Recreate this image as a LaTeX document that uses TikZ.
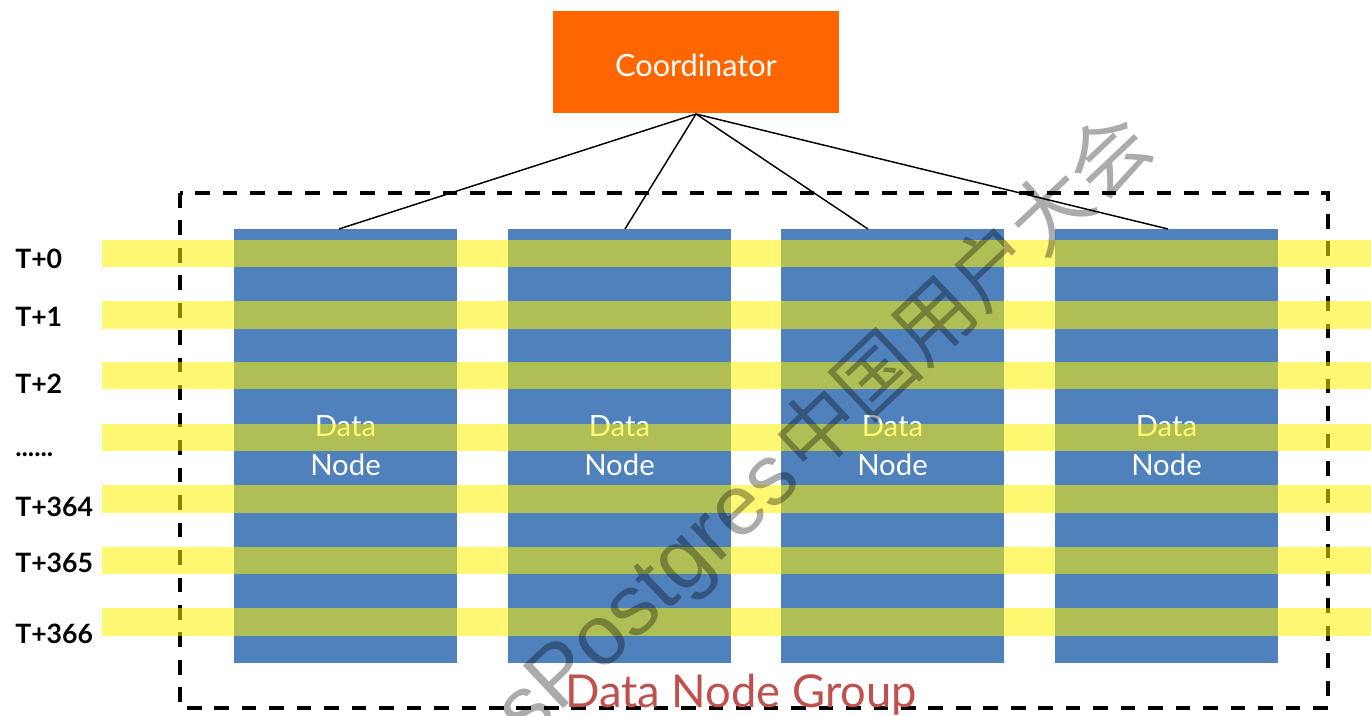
\documentclass[tikz,border=0pt]{standalone}
\usepackage{fontspec}
\setmainfont{Lato}
\newfontfamily\cjkwm{Noto Sans CJK SC}
\newfontfamily\latwm{Liberation Sans}
\usetikzlibrary{calc}
\definecolor{coordorange}{HTML}{FF6600}
\definecolor{colblue}{HTML}{4F81BD}
\definecolor{groupred}{HTML}{C0504D}
\tikzset{
  px/.style={x=0.75pt,y=-0.75pt},
  col/.style={fill=colblue, draw=none, minimum width=167.25pt, minimum height=325.5pt, inner sep=0pt,
    text=white, align=center, font=\fontsize{22}{29.25}\selectfont},
  band/.style={fill=yellow, fill opacity=0.55},
  tlabel/.style={anchor=base west, inner sep=0pt, font=\fontsize{20}{22}\selectfont\bfseries},
  link/.style={draw=black, line width=1.1pt},
  groupbox/.style={draw=black, line width=2.3pt, dash pattern=on 11pt off 9.6pt},
  wm/.style={text=black, text opacity=0.33, inner sep=0pt, rotate=43.3}
}
\begin{document}
\begin{tikzpicture}[px]
\useasboundingbox (0,0) rectangle (1371,716);
\clip (0,0) rectangle (1371,716);
% group box
\draw[groupbox] (180,193) rectangle (1328,708);
% coordinator
\node[fill=coordorange, minimum width=214.5pt, minimum height=76.5pt, inner sep=0pt] (coord) at (696,62) {};
\node[text=white, inner sep=0pt, font=\fontsize{23}{26}\selectfont] (coordtext) at (696,65) {Coordinator};
% data node columns
\node[col] (c1) at (345.5,446) {Data\\Node};
\node[col] (c2) at (619.5,446) {Data\\Node};
\node[col] (c3) at (892.5,446) {Data\\Node};
\node[col] (c4) at (1166.5,446) {Data\\Node};
% connectors
\coordinate (t1) at (339,229);
\coordinate (t2) at (625,229);
\coordinate (t3) at (868,229);
\coordinate (t4) at (1168,229);
\coordinate (cb) at (696,114);
\draw[link] (cb) -- (t1);
\draw[link] (cb) -- (t2);
\draw[link] (cb) -- (t3);
\draw[link] (cb) -- (t4);
% yellow bands
\foreach \y in {240,301.5,362,424,485,546.5,608}{
  \fill[band] (102,\y) rectangle (1371,\y+27.5);
}
% labels
\node[tlabel] (l0) at (15,269) {T+0};
\node[tlabel] (l1) at (15,327) {T+1};
\node[tlabel] (l2) at (15,394) {T+2};
\node[tlabel] (l3) at (15,456) {......};
\node[tlabel] (l4) at (15,516) {T+364};
\node[tlabel] (l5) at (15,572) {T+365};
\node[tlabel] (l6) at (15,643) {T+366};
% group label
\node[text=groupred, inner sep=0pt, anchor=base, font=\fontsize{34}{38}\selectfont] (grp) at (741,707) {Data Node Group};
% watermark
\node[wm, anchor=center, font=\cjkwm\fontsize{60}{60}\selectfont] (wm2) at (962,292) {中国用户大会};
\node[wm, anchor=base east, font=\latwm\fontsize{64}{64}\selectfont] (wm1) at ([shift={(-4,4)}]wm2.base west) {sPostgres};
\end{tikzpicture}
\end{document}
